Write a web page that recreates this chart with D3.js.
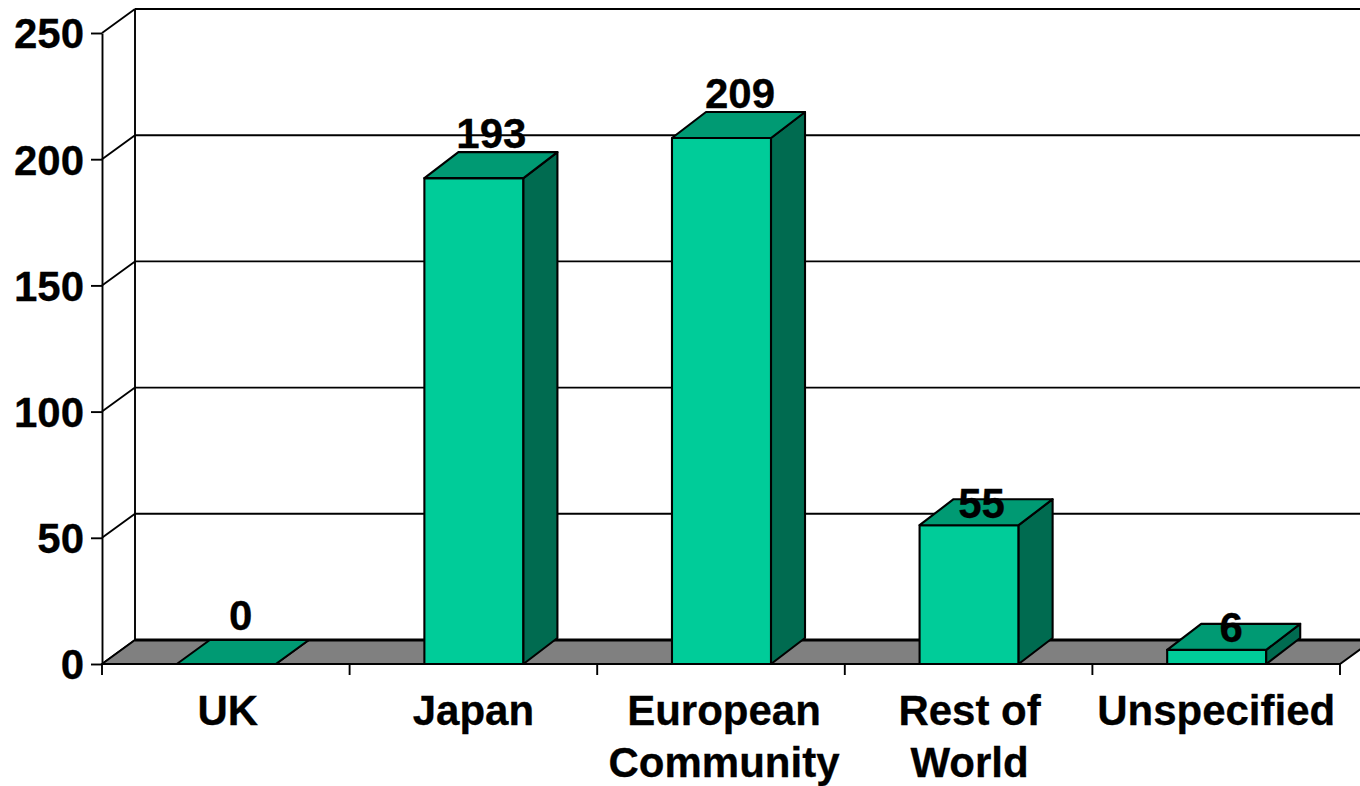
<!DOCTYPE html>
<html>
<head>
<meta charset="utf-8">
<script src="https://cdn.jsdelivr.net/npm/d3@7"></script>
<style>
  html, body { margin: 0; padding: 0; background: #fff; overflow: hidden; }
  svg { display: block; }
  text { font-family: "Liberation Sans", Arial, sans-serif; font-weight: bold; fill: #000; stroke: #000; stroke-width: 0.3px; }
</style>
</head>
<body>
<svg id="chart" width="1360" height="786"></svg>
<script>
var categories = ["UK", "Japan", "European Community", "Rest of World", "Unspecified"];
var categoryLines = [["UK"], ["Japan"], ["European", "Community"], ["Rest of", "World"], ["Unspecified"]];
var values = [0, 193, 209, 55, 6];
var barHeights = [0, 192.5, 208.4, 55, 5.6];
var yTicks = [0, 50, 100, 150, 200, 250];

// labels were moved by hand in the original, so each one has its own nudge
var labelNudgeX = [-1.5, 1.5, 2.5, -3.5, -1.5];
var labelNudgeY = [-8, -4, -4, 19, 18];
var catNudgeX = [2, 0, 3, 1, 0];

var depthX = 33, depthY = 24;
var barDepthX = 34, barDepthY = 26;
var fontSize = 42;
var lw = 1.9;

var svg = d3.select("#chart");

var x = d3.scaleBand().domain(categories).range([102, 1340]);
var y = d3.scaleLinear().domain([0, 250]).range([664, 33]);
var barW = x.bandwidth() * 0.4;

function barLeft(c) { return x(c) + (x.bandwidth() - barW) / 2; }
function pts(a) { return a.map(function(p) { return p.join(","); }).join(" "); }

// back wall
svg.selectAll(".grid").data(yTicks).enter().append("line")
    .attr("class", "grid")
    .attr("x1", x.range()[0] + depthX).attr("x2", 1360)
    .attr("y1", function(d) { return y(d) - depthY; })
    .attr("y2", function(d) { return y(d) - depthY; })
    .attr("stroke", "#000").attr("stroke-width", lw);

svg.selectAll(".side").data(yTicks).enter().append("line")
    .attr("class", "side")
    .attr("x1", x.range()[0]).attr("x2", x.range()[0] + depthX)
    .attr("y1", function(d) { return y(d); })
    .attr("y2", function(d) { return y(d) - depthY; })
    .attr("stroke", "#000").attr("stroke-width", lw);

svg.append("line")
    .attr("x1", x.range()[0] + depthX).attr("x2", x.range()[0] + depthX)
    .attr("y1", y(250) - depthY).attr("y2", y(0) - depthY)
    .attr("stroke", "#000").attr("stroke-width", lw);

// floor
svg.append("polygon")
    .attr("points", pts([
        [x.range()[0], y(0)],
        [x.range()[0] + depthX, y(0) - depthY],
        [x.range()[1] + depthX, y(0) - depthY],
        [x.range()[1], y(0)]
    ]))
    .attr("fill", "#808080").attr("stroke", "#000").attr("stroke-width", lw);

svg.append("line")
    .attr("x1", x.range()[0] + depthX).attr("x2", 1360)
    .attr("y1", y(0) - depthY).attr("y2", y(0) - depthY)
    .attr("stroke", "#000").attr("stroke-width", 3);

// axes
var yAxis = d3.axisLeft(y).tickValues(yTicks).tickSize(11).tickSizeOuter(0).tickPadding(7);
var gy = svg.append("g").attr("transform", "translate(" + x.range()[0] + ",0)").call(yAxis);
gy.selectAll("path, line").attr("stroke", "#000").attr("stroke-width", lw);
gy.selectAll("text").style("font-size", fontSize + "px").attr("fill", "#000").attr("dy", "0.355em");

var xEdges = x.domain().map(function(c) { return x(c); }).concat([x.range()[1]]);
svg.selectAll(".xtick").data(xEdges).enter().append("line")
    .attr("class", "xtick")
    .attr("x1", function(d) { return d; }).attr("x2", function(d) { return d; })
    .attr("y1", y(0)).attr("y2", y(0) + 11)
    .attr("stroke", "#000").attr("stroke-width", lw);

svg.append("line")
    .attr("x1", x.range()[0]).attr("x2", x.range()[1])
    .attr("y1", y(0)).attr("y2", y(0))
    .attr("stroke", "#000").attr("stroke-width", lw);

// bars
var bars = svg.selectAll(".bar").data(categories).enter().append("g").attr("class", "bar");

bars.each(function(c, i) {
    var g = d3.select(this);
    var l = barLeft(c) + 0.5, r = l + barW, top = y(barHeights[i]), base = y(0);
    var dx = i === 0 ? depthX : barDepthX, dy = i === 0 ? depthY : barDepthY;
    g.append("polygon")
        .attr("points", pts([[l, base], [r, base], [r, top], [l, top]]))
        .attr("fill", "#00cc99");
    g.append("polygon")
        .attr("points", pts([[r, base], [r + dx, base - dy], [r + dx, top - dy], [r, top]]))
        .attr("fill", "#006b50");
    g.append("polygon")
        .attr("points", pts([[l, top], [l + dx, top - dy], [r + dx, top - dy], [r, top]]))
        .attr("fill", "#009a73");
    g.selectAll("polygon")
        .attr("stroke", "#000").attr("stroke-width", 2.1).attr("stroke-linejoin", "round");
});

// value labels
svg.selectAll(".value").data(categories).enter().append("text")
    .attr("class", "value")
    .attr("x", function(c, i) { return barLeft(c) + barW / 2 + depthX / 2 + labelNudgeX[i]; })
    .attr("y", function(c, i) { return y(barHeights[i]) - barDepthY + labelNudgeY[i]; })
    .attr("text-anchor", "middle")
    .style("font-size", fontSize + "px")
    .text(function(c, i) { return values[i]; });

// category labels
svg.selectAll(".cat").data(categories).enter().append("text")
    .attr("class", "cat")
    .attr("text-anchor", "middle")
    .style("font-size", fontSize + "px")
    .each(function(c, i) {
        d3.select(this).selectAll("tspan").data(categoryLines[i]).enter().append("tspan")
            .attr("x", x(c) + x.bandwidth() / 2 + catNudgeX[i])
            .attr("y", function(d, k) { return 725 + k * 52; })
            .text(function(d) { return d; });
    });
</script>
</body>
</html>
